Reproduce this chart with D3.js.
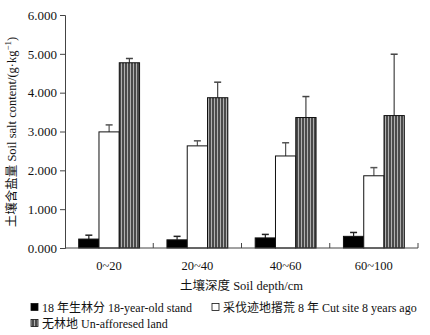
<!DOCTYPE html>
<html>
<head>
<meta charset="utf-8">
<script src="https://cdn.jsdelivr.net/npm/d3@7"></script>
<style>
  body { margin: 0; background: #fff; }
  svg text { font-family: "Liberation Serif", "Noto Sans CJK SC", serif; fill: #111; }
</style>
</head>
<body>
<svg id="chart" width="430" height="335"></svg>
<script>
"use strict";

const depths = ["0~20", "20~40", "40~60", "60~100"];
const seriesNames = ["stand18", "cut8", "unforested"];
const stand18 = [0.23, 0.21, 0.26, 0.30];
const stand18Err = [0.10, 0.09, 0.09, 0.10];
const cut8 = [2.99, 2.63, 2.37, 1.86];
const cut8Err = [0.18, 0.13, 0.34, 0.21];
const unforested = [4.77, 3.87, 3.36, 3.41];
const unforestedErr = [0.11, 0.40, 0.54, 1.58];
const yTicks = [0, 1, 2, 3, 4, 5, 6];
const legendLabels = [
    "18 年生林分 18-year-old stand",
    "采伐迹地撂荒 8 年 Cut site 8 years ago",
    "无林地 Un-afforesed land"
];

const plotLeft = 65, plotRight = 418, plotTop = 15, plotBottom = 248;

const svg = d3.select("#chart");

// vertical stripe fill for the third series
const defs = svg.append("defs");
const pat = defs.append("pattern")
    .attr("id", "vstripe")
    .attr("patternUnits", "userSpaceOnUse")
    .attr("width", 3).attr("height", 4);
pat.append("rect").attr("width", 3).attr("height", 4).attr("fill", "#4a4a4a");
pat.append("rect").attr("x", 1).attr("width", 1).attr("height", 4).attr("fill", "#b0b0b0");

const fills = { stand18: "#000", cut8: "#fff", unforested: "url(#vstripe)" };
const errColor = { stand18: "#222", cut8: "#555", unforested: "#444" };

const xScale = d3.scaleBand().domain(depths).range([plotLeft, plotRight]).padding(0);
const xInner = d3.scaleBand().domain(seriesNames).range([0, xScale.bandwidth()])
    .paddingInner(0).paddingOuter(0.675);
const yScale = d3.scaleLinear().domain([0, 6]).range([plotBottom, plotTop]);

const rows = [];
depths.forEach((d, i) => {
    rows.push({ depth: d, key: "stand18", v: stand18[i], e: stand18Err[i] });
    rows.push({ depth: d, key: "cut8", v: cut8[i], e: cut8Err[i] });
    rows.push({ depth: d, key: "unforested", v: unforested[i], e: unforestedErr[i] });
});

// error bars (upper only)
const errG = svg.append("g");
rows.forEach(r => {
    const cx = xScale(r.depth) + xInner(r.key) + xInner.bandwidth() / 2;
    errG.append("line")
        .attr("x1", cx).attr("x2", cx)
        .attr("y1", yScale(r.v)).attr("y2", yScale(r.v + r.e))
        .attr("stroke", errColor[r.key]).attr("stroke-width", 1.2);
    errG.append("line")
        .attr("x1", cx - 3.5).attr("x2", cx + 3.5)
        .attr("y1", yScale(r.v + r.e)).attr("y2", yScale(r.v + r.e))
        .attr("stroke", errColor[r.key]).attr("stroke-width", 1.5);
});

svg.append("g").selectAll("rect")
    .data(rows)
    .join("rect")
    .attr("x", r => xScale(r.depth) + xInner(r.key))
    .attr("y", r => yScale(r.v))
    .attr("width", xInner.bandwidth())
    .attr("height", r => yScale(0) - yScale(r.v))
    .attr("fill", r => fills[r.key])
    .attr("stroke", "#111")
    .attr("stroke-width", 1);

// y axis
const yAxis = svg.append("g")
    .attr("transform", `translate(${plotLeft},0)`)
    .call(d3.axisLeft(yScale).tickValues(yTicks).tickFormat(d3.format(".3f")).tickSize(5).tickPadding(3));
yAxis.select(".domain").attr("stroke", "#444");
yAxis.selectAll(".tick line").attr("stroke", "#444");
yAxis.selectAll("text").attr("font-size", 13).attr("fill", "#111");

// x axis: line with inner ticks on category boundaries
const xG = svg.append("g");
xG.append("line")
    .attr("x1", plotLeft).attr("x2", plotRight)
    .attr("y1", plotBottom).attr("y2", plotBottom)
    .attr("stroke", "#444");
depths.forEach(d => {
    const bx = xScale(d) + xScale.bandwidth();
    xG.append("line")
        .attr("x1", bx).attr("x2", bx)
        .attr("y1", plotBottom).attr("y2", plotBottom - 5)
        .attr("stroke", "#444");
    xG.append("text")
        .attr("x", xScale(d) + xScale.bandwidth() / 2)
        .attr("y", 270)
        .attr("text-anchor", "middle")
        .attr("font-size", 12.5)
        .text(d);
});

svg.append("text")
    .attr("x", (plotLeft + plotRight) / 2)
    .attr("y", 290)
    .attr("text-anchor", "middle")
    .attr("font-size", 12.5)
    .text("土壤深度 Soil depth/cm");

// y title
const yt = svg.append("text")
    .attr("transform", "translate(16,132) rotate(-90)")
    .attr("text-anchor", "middle")
    .attr("font-size", 12.5);
yt.append("tspan").text("土壤含盐量 Soil salt content/(g·kg");
yt.append("tspan").attr("baseline-shift", "super").attr("font-size", 9).text("−1");
yt.append("tspan").text(")");

// legend
const legendPos = [[31, 312], [212, 312], [31, 328]];
const legendKeys = ["stand18", "cut8", "unforested"];
legendKeys.forEach((k, i) => {
    const [lx, ly] = legendPos[i];
    svg.append("rect")
        .attr("x", lx).attr("y", ly - 8.5)
        .attr("width", 7).attr("height", 7)
        .attr("fill", fills[k])
        .attr("stroke", "#111").attr("stroke-width", 0.8);
    svg.append("text")
        .attr("x", lx + 11).attr("y", ly)
        .attr("font-size", 12)
        .text(legendLabels[i]);
});
</script>
</body>
</html>
